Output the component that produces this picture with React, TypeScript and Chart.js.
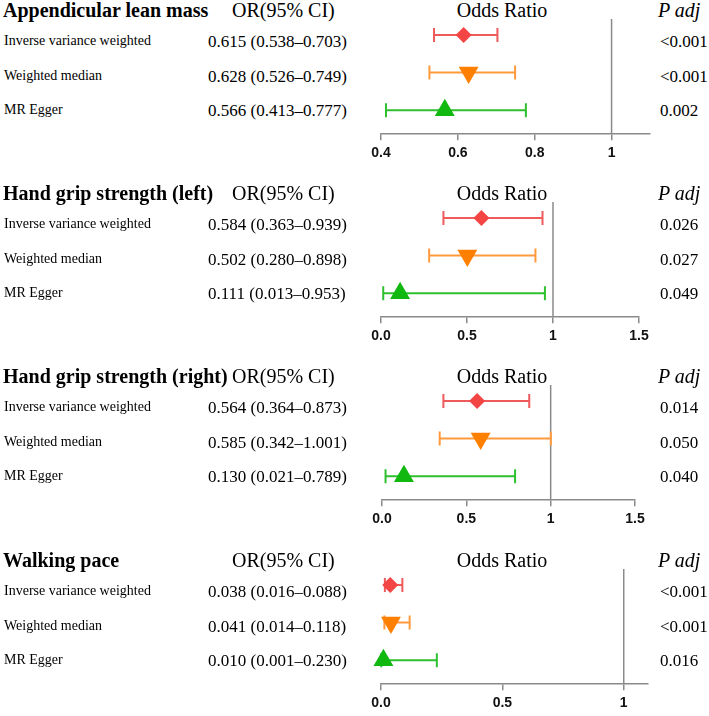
import React, { useEffect, useRef } from 'react';
import { Chart, registerables } from 'chart.js';

Chart.register(...registerables);

// ---------- data ----------
const methods = ['Inverse variance weighted', 'Weighted median', 'MR Egger'];
const panelTitles = [
  'Appendicular lean mass',
  'Hand grip strength (left)',
  'Hand grip strength (right)',
  'Walking pace',
];

const leanOR = [0.615, 0.628, 0.566];
const leanLow = [0.538, 0.526, 0.413];
const leanHigh = [0.703, 0.749, 0.777];
const leanP = ['<0.001', '<0.001', '0.002'];
const leanTicks = [0.4, 0.6, 0.8, 1];
const leanRange = [0.4, 1.1];

const gripLeftOR = [0.584, 0.502, 0.111];
const gripLeftLow = [0.363, 0.28, 0.013];
const gripLeftHigh = [0.939, 0.898, 0.953];
const gripLeftP = ['0.026', '0.027', '0.049'];
const gripLeftTicks = [0, 0.5, 1, 1.5];
const gripLeftRange = [0, 1.5];

const gripRightOR = [0.564, 0.585, 0.13];
const gripRightLow = [0.364, 0.342, 0.021];
const gripRightHigh = [0.873, 1.001, 0.789];
const gripRightP = ['0.014', '0.050', '0.040'];
const gripRightTicks = [0, 0.5, 1, 1.5];
const gripRightRange = [0, 1.5];

const walkOR = [0.038, 0.041, 0.01];
const walkLow = [0.016, 0.014, 0.001];
const walkHigh = [0.088, 0.118, 0.23];
const walkP = ['<0.001', '<0.001', '0.016'];
const walkTicks = [0, 0.5, 1];
const walkRange = [0, 1.1];

const referenceValue = 1;

// ---------- styles ----------
const markerColors = ['#F44545', '#FF8000', '#10B810'];
const lineColors = ['#EF5A5A', '#FF9A3C', '#2EC02E'];
const pointStyles = ['rectRot', 'triangle', 'triangle'];
const pointRotations = [0, 180, 0];
const pointRadii = [8, 11.5, 11.5];
const serif = "'Liberation Serif', 'Times New Roman', serif";
const sans = "'Liberation Sans', Arial, sans-serif";
const axisGray = '#8a8a8a';

const panels = [
  { title: panelTitles[0], or: leanOR, lo: leanLow, hi: leanHigh, p: leanP, ticks: leanTicks, range: leanRange, top: 0, left: 381, right: 650 },
  { title: panelTitles[1], or: gripLeftOR, lo: gripLeftLow, hi: gripLeftHigh, p: gripLeftP, ticks: gripLeftTicks, range: gripLeftRange, top: 183, left: 381, right: 639 },
  { title: panelTitles[2], or: gripRightOR, lo: gripRightLow, hi: gripRightHigh, p: gripRightP, ticks: gripRightTicks, range: gripRightRange, top: 366, left: 382, right: 635 },
  { title: panelTitles[3], or: walkOR, lo: walkLow, hi: walkHigh, p: walkP, ticks: walkTicks, range: walkRange, top: 550, left: 381, right: 648 },
];

const CANVAS_LEFT = 341;
const CANVAS_W = 368;
const CANVAS_H = 172;

const forestPlugin = {
  id: 'forest',
  beforeDatasetsDraw(chart: any) {
    const { ctx, chartArea, scales } = chart;
    const xs = scales.x;
    const ys = scales.y;
    ctx.save();
    // reference line
    const rx = xs.getPixelForValue(referenceValue);
    ctx.strokeStyle = axisGray;
    ctx.lineWidth = 1.5;
    ctx.beginPath();
    ctx.moveTo(rx, chartArea.top + 1);
    ctx.lineTo(rx, chartArea.bottom);
    ctx.stroke();
    // error bars
    chart.data.datasets.forEach((ds: any) => {
      const y = ys.getPixelForValue(ds.data[0].y);
      const x1 = xs.getPixelForValue(ds.ciLow);
      const x2 = xs.getPixelForValue(ds.ciHigh);
      ctx.strokeStyle = ds.ciColor;
      ctx.lineWidth = 2;
      ctx.beginPath();
      ctx.moveTo(x1, y);
      ctx.lineTo(x2, y);
      ctx.moveTo(x1, y - 7);
      ctx.lineTo(x1, y + 7);
      ctx.moveTo(x2, y - 7);
      ctx.lineTo(x2, y + 7);
      ctx.stroke();
    });
    ctx.restore();
  },
};

function ForestChart({ panel }: { panel: any }) {
  const ref = useRef<HTMLCanvasElement>(null);
  useEffect(() => {
    if (!ref.current) return;
    const chart = new Chart(ref.current, {
      type: 'scatter',
      data: {
        datasets: methods.map((m, i) => ({
          label: m,
          data: [{ x: panel.or[i], y: i + 1 }],
          pointStyle: pointStyles[i],
          rotation: pointRotations[i],
          radius: pointRadii[i],
          backgroundColor: markerColors[i],
          borderColor: markerColors[i],
          borderWidth: 0,
          clip: false,
          ciLow: panel.lo[i],
          ciHigh: panel.hi[i],
          ciColor: lineColors[i],
        })) as any,
      },
      options: {
        animation: false,
        responsive: false,
        maintainAspectRatio: false,
        events: [],
        layout: {
          padding: {
            left: panel.left - CANVAS_LEFT,
            right: CANVAS_LEFT + CANVAS_W - panel.right,
            top: 18,
            bottom: 5,
          },
        },
        plugins: { legend: { display: false }, tooltip: { enabled: false } },
        scales: {
          x: {
            type: 'linear',
            min: panel.range[0],
            max: panel.range[1],
            afterBuildTicks: (scale: any) => {
              scale.ticks = panel.ticks.map((v: number) => ({ value: v }));
            },
            grid: {
              drawOnChartArea: false,
              drawTicks: true,
              tickLength: 6,
              color: axisGray,
              lineWidth: 1.5,
            },
            border: { display: true, color: axisGray, width: 1.5 },
            ticks: {
              autoSkip: false,
              maxRotation: 0,
              padding: 5,
              color: '#111',
              font: { family: sans, size: 14, weight: 'bold' },
              callback: (v: any) => (Number(v) === 1 ? '1' : Number(v).toFixed(1)),
            },
          },
          y: { type: 'linear', reverse: true, min: 0.55, max: 3.64, display: false },
        },
      } as any,
      plugins: [forestPlugin],
    });
    return () => chart.destroy();
  }, [panel]);
  return (
    <canvas
      ref={ref}
      width={CANVAS_W}
      height={CANVAS_H}
      style={{ position: 'absolute', left: CANVAS_LEFT, top: panel.top, width: CANVAS_W, height: CANVAS_H }}
    />
  );
}

function T({ left, top, size, children, bold, italic, center }: any) {
  return (
    <div
      style={{
        position: 'absolute',
        left,
        top,
        lineHeight: 0,
        height: 0,
        whiteSpace: 'nowrap',
        fontFamily: serif,
        fontSize: size,
        fontWeight: bold ? 'bold' : 'normal',
        fontStyle: italic ? 'italic' : 'normal',
        color: '#000',
        transform: center ? 'translateX(-50%)' : undefined,
      }}
    >
      {children}
    </div>
  );
}

const fmt = (v: number) => v.toFixed(3);

export default function App() {
  return (
    <div style={{ position: 'absolute', left: 0, top: 0, width: 709, height: 716, background: '#fff', overflow: 'hidden' }}>
      {panels.map((panel, k) => (
        <div key={k} style={{ position: 'absolute', left: 0, top: 0, width: 709, height: 716 }}>
          <div style={{ position: 'absolute', left: 0, top: panel.top, width: 709, height: 180 }}>
            <T left={3} top={10} size={20} bold>{panel.title}</T>
            <T left={232} top={10} size={20}>OR(95% CI)</T>
            <T left={502} top={10} size={20} center>Odds Ratio</T>
            <T left={658} top={10} size={20} italic>P adj</T>
            {methods.map((m, i) => (
              <React.Fragment key={i}>
                <T left={4} top={41 + 34.7 * i} size={14}>{m}</T>
                <T left={208} top={42 + 34.7 * i} size={17}>
                  {`${fmt(panel.or[i])} (${fmt(panel.lo[i])}–${fmt(panel.hi[i])})`}
                </T>
                <T left={660} top={42 + 34.7 * i} size={17}>{panel.p[i]}</T>
              </React.Fragment>
            ))}
          </div>
          <ForestChart panel={panel} />
        </div>
      ))}
    </div>
  );
}
